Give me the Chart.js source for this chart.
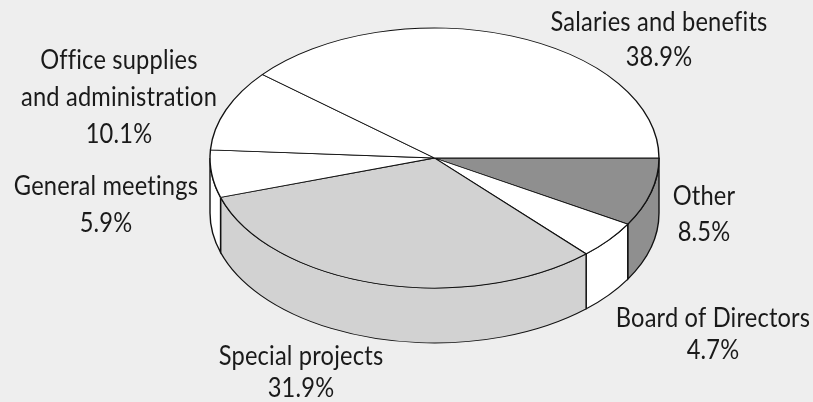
<!DOCTYPE html>
<html>
<head>
<meta charset="utf-8">
<script src="https://cdn.jsdelivr.net/npm/chart.js@4"></script>
<style>
    html, body { margin: 0; padding: 0; background: #eeeeee; }
    #pieChart { display: block; }
</style>
</head>
<body>
<canvas id="pieChart" width="813" height="402"></canvas>
<script>
const categories = ["Other", "Board of Directors", "Special projects", "General meetings", "Office supplies|and administration", "Salaries and benefits"];
const shares = [8.5, 4.7, 31.9, 5.9, 10.1, 38.9];
const sliceColors = ["#8f8f8f", "#ffffff", "#d2d2d2", "#ffffff", "#ffffff", "#ffffff"];

const TILT = 130 / 224.5;   // ellipse flattening
const DEPTH = 55;           // height of the side wall
const TEXT_NARROW = 0.91;   // the original face is narrower than Lato

// where each label block is centred (first baseline and line gap)
const labelSpots = [
    { x: 704, y: 205, gap: 36 },
    { x: 713, y: 327, gap: 32 },
    { x: 301, y: 365, gap: 32 },
    { x: 106, y: 195, gap: 37 },
    { x: 119, y: 69, gap: 37 },
    { x: 659, y: 31, gap: 35 }
];

const pie3d = {
    id: "pie3d",
    beforeDatasetsDraw(chart) {
        const ctx = chart.ctx;
        const arcs = chart.getDatasetMeta(0).data;
        const cy = arcs[0].y;

        ctx.save();
        ctx.translate(0, cy);
        ctx.scale(1, TILT);
        ctx.translate(0, -cy);

        // side walls, only the part of each slice facing the viewer
        arcs.forEach(function(arc, i){
            const a0 = Math.max(arc.startAngle, 0);
            const a1 = Math.min(arc.endAngle, Math.PI);
            if(a1 <= a0){ return; }
            const d = DEPTH / TILT;
            ctx.beginPath();
            ctx.arc(arc.x, arc.y, arc.outerRadius, a0, a1);
            ctx.lineTo(arc.x + arc.outerRadius * Math.cos(a1), arc.y + d + arc.outerRadius * Math.sin(a1));
            ctx.arc(arc.x, arc.y + d, arc.outerRadius, a1, a0, true);
            ctx.closePath();
            ctx.fillStyle = sliceColors[i];
            ctx.fill();
            ctx.lineWidth = 1.4;
            ctx.strokeStyle = "#111111";
            ctx.stroke();
        });
    },
    afterDatasetsDraw(chart) {
        const ctx = chart.ctx;
        ctx.restore();

        ctx.fillStyle = "#1a1a1a";
        ctx.font = "26px Lato";
        ctx.letterSpacing = "0.2px";
        ctx.textAlign = "center";
        ctx.textBaseline = "alphabetic";
        categories.forEach(function(name, i){
            const spot = labelSpots[i];
            const lines = name.split("|").concat(shares[i].toFixed(1) + "%");
            lines.forEach(function(line, n){
                ctx.save();
                ctx.translate(spot.x, spot.y + n * spot.gap);
                ctx.scale(TEXT_NARROW, 1);
                ctx.fillText(line, 0, 0);
                ctx.restore();
            });
        });
    }
};

new Chart(document.getElementById("pieChart"), {
    type: "pie",
    data: {
        labels: categories,
        datasets: [{
            data: shares,
            backgroundColor: sliceColors,
            borderColor: "#111111",
            borderWidth: 1.4,
            borderAlign: "center"
        }]
    },
    options: {
        responsive: false,
        animation: false,
        rotation: 90,
        radius: 224.5,
        layout: { padding: { left: 56, bottom: 86 } },
        plugins: {
            legend: { display: false },
            tooltip: { enabled: false }
        }
    },
    plugins: [pie3d]
});
</script>
</body>
</html>
